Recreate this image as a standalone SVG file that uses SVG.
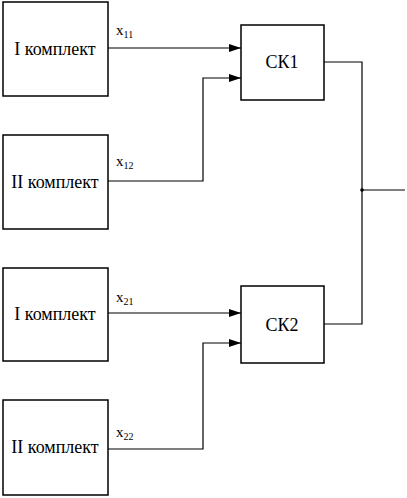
<svg xmlns="http://www.w3.org/2000/svg" width="407" height="498" viewBox="0 0 407 498">
<style>
.box{fill:#fff;stroke:#000;stroke-width:1.5}
.t{font-family:'Liberation Serif','Times New Roman','DejaVu Serif',serif;font-size:18px;fill:#000;text-anchor:middle}
.lb{font-family:'Liberation Serif','Times New Roman','DejaVu Serif',serif;font-size:15px;fill:#000}
.sub{font-size:10px}
.w{fill:none;stroke:#000;stroke-width:1.2}
</style>
<defs>
<marker id="ah" markerWidth="12" markerHeight="8" refX="12" refY="4" orient="auto" markerUnits="userSpaceOnUse">
<path d="M0,0 L12,4 L0,8 Z" fill="#000"/>
</marker>
</defs>
<g id="n1"><rect class="box" x="3" y="2" width="105" height="94"/><text class="t" x="55" y="55">I комплект</text></g>
<g id="n2"><rect class="box" x="3" y="135" width="105" height="94"/><text class="t" x="55" y="188">II комплект</text></g>
<g id="n3"><rect class="box" x="3" y="268" width="105" height="93"/><text class="t" x="55" y="320">I комплект</text></g>
<g id="n4"><rect class="box" x="3" y="400" width="105" height="95"/><text class="t" x="55" y="453">II комплект</text></g>
<g id="ck1"><rect class="box" x="241" y="25" width="83" height="75"/><text class="t" x="282" y="68">СК1</text></g>
<g id="ck2"><rect class="box" x="241" y="286" width="83" height="77"/><text class="t" x="282" y="331">СК2</text></g>
<g id="connectors">
<path class="w" d="M108,48 H241" marker-end="url(#ah)" stroke-width="1.6"/>
<path class="w" d="M108,181 H203 V78 H241" marker-end="url(#ah)"/>
<path class="w" d="M108,313 H241" marker-end="url(#ah)"/>
<path class="w" d="M108,449 H203 V343 H241" marker-end="url(#ah)"/>
<path class="w" d="M324,62 H362 V324 H324"/>
<path class="w" d="M362,190 H405"/>
<circle cx="362" cy="190" r="1.8" fill="#000"/>
</g>
<g id="labels">
<text class="lb" x="116" y="35">x<tspan class="sub" dy="3">11</tspan></text>
<text class="lb" x="116" y="166">x<tspan class="sub" dy="3">12</tspan></text>
<text class="lb" x="116" y="302">x<tspan class="sub" dy="3">21</tspan></text>
<text class="lb" x="116" y="437">x<tspan class="sub" dy="3">22</tspan></text>
</g>
</svg>
